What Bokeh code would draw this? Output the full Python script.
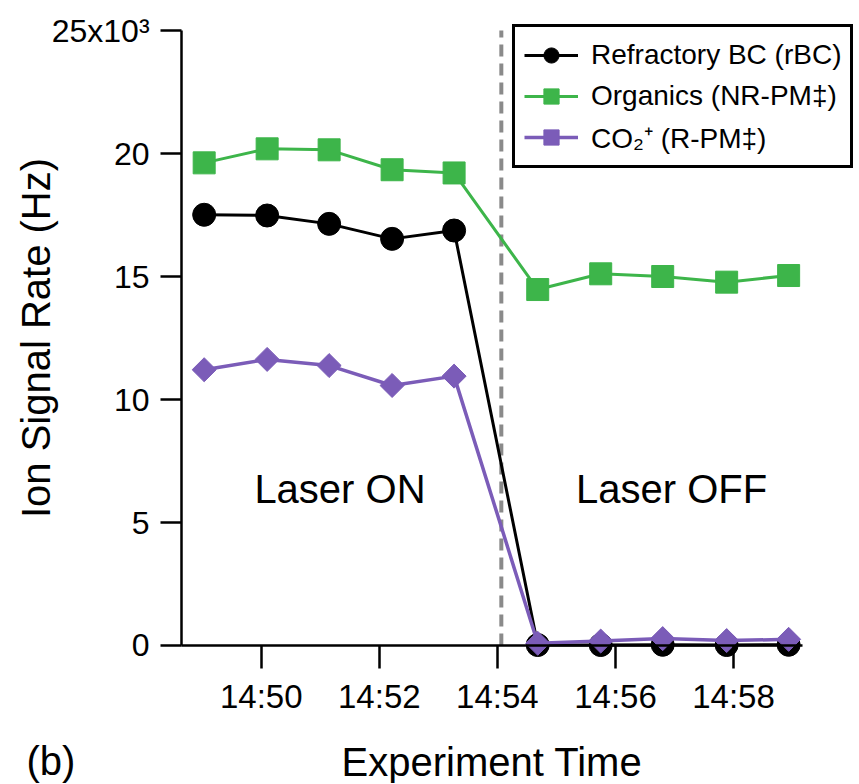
import pandas as pd
from bokeh.plotting import figure
from bokeh.models import (ColumnDataSource, Range1d, FixedTicker, DatetimeTickFormatter,
                          Label, Legend, LegendItem)
from bokeh.embed import file_html
from bokeh.resources import INLINE

DAY = "2013-06-01 "

# ---- data ----
times = ["14:49:02", "14:50:06", "14:51:09", "14:52:13", "14:53:16",
         "14:54:41", "14:55:45", "14:56:48", "14:57:53", "14:58:56"]
rbc = [17510, 17480, 17140, 16530, 16870, 20, 20, 30, 20, 30]
organics = [19620, 20190, 20150, 19340, 19210, 14470, 15110, 15000, 14770, 15040]
co2 = [11210, 11630, 11380, 10570, 10950, 90, 180, 280, 200, 250]

laser_off_time = "14:54:04"
x_tick_labels = ["14:50", "14:52", "14:54", "14:56", "14:58"]
y_ticks = [0, 5000, 10000, 15000, 20000, 25000]
y_tick_labels = ["0", "5", "10", "15", "20", "25x10\u00b3"]
x_axis_span = ["14:48:39", "14:59:10"]      # extent of the drawn time axis

series_names = ["Refractory BC (rBC)", "Organics (NR-PM\u2021)", "CO\u2082\u207a (R-PM\u2021)"]
colors = ["#000000", "#3db54a", "#7b5cb8"]


def ms(hms):
    return pd.Timestamp(DAY + hms).value / 1e6


FONT = "Liberation Sans"
W, H = 858, 783
# whole canvas is the plotting frame; axes are pinned inside it
x_view = (ms("14:45:35"), ms("15:00:07"))
y_view = (-5610, 26220)

src = ColumnDataSource(dict(t=[ms(s) for s in times], rbc=rbc, org=organics, co2=co2))

p = figure(frame_width=W, frame_height=H, title=None,
           x_axis_type="datetime", output_backend="svg", toolbar_location=None,
           x_range=Range1d(*x_view), y_range=Range1d(*y_view),
           min_border=0)

p.outline_line_color = None
p.xgrid.grid_line_color = None
p.ygrid.grid_line_color = None
p.background_fill_color = "white"
p.border_fill_color = "white"

# vertical dashed "laser off" marker
sw = ms(laser_off_time)
p.segment(x0=[sw], y0=[y_ticks[0]], x1=[sw], y1=[y_ticks[-1]],
          line_color="#8a8a8a", line_width=4, line_dash="12 7")

l1 = p.line("t", "rbc", source=src, line_color=colors[0], line_width=3)
s1 = p.scatter("t", "rbc", source=src, marker="circle", size=23, color=colors[0])
l2 = p.line("t", "org", source=src, line_color=colors[1], line_width=3)
s2 = p.scatter("t", "org", source=src, marker="square", size=22, color=colors[1])
l3 = p.line("t", "co2", source=src, line_color=colors[2], line_width=3.5)
s3 = p.scatter("t", "co2", source=src, marker="square", angle=0.785398, size=17, color=colors[2])

# axes
xa = p.xaxis[0]
ya = p.yaxis[0]
xa.ticker = FixedTicker(ticks=[ms(s + ":00") for s in x_tick_labels])
xa.formatter = DatetimeTickFormatter(seconds="%H:%M", minsec="%H:%M", minutes="%H:%M",
                                     hourmin="%H:%M", hours="%H:%M")
xa.fixed_location = y_ticks[0]
xa.bounds = (ms(x_axis_span[0]), ms(x_axis_span[1]))
xa.axis_label = "Experiment Time"
xa.major_tick_out = 23
xa.major_label_standoff = 10
xa.axis_label_standoff = 21
xa.major_label_text_font_size = "33px"

ya.ticker = FixedTicker(ticks=y_ticks)
ya.major_label_overrides = {t: lab for t, lab in zip(y_ticks, y_tick_labels)}
ya.fixed_location = ms(x_axis_span[0])
ya.bounds = (y_ticks[0], y_ticks[-1])
ya.axis_label = "Ion Signal Rate (Hz)"
ya.major_tick_out = 21
ya.major_label_standoff = 11
ya.axis_label_standoff = -9
ya.major_label_text_font_size = "32px"

for ax in (xa, ya):
    ax.axis_line_width = 2.5
    ax.axis_line_color = "black"
    ax.major_tick_in = 0
    ax.major_tick_line_width = 2.5
    ax.major_tick_line_color = "black"
    ax.minor_tick_line_color = None
    ax.major_label_text_font = FONT
    ax.major_label_text_color = "black"
    ax.axis_label_text_font = FONT
    ax.axis_label_text_font_size = "40px"
    ax.axis_label_text_font_style = "normal"
    ax.axis_label_text_color = "black"

# annotations
p.add_layout(Label(x=ms("14:51:20"), y=6380, text="Laser ON", text_align="center",
                   text_baseline="middle", text_font=FONT, text_font_size="40px",
                   text_color="black"))
p.add_layout(Label(x=ms("14:56:57"), y=6380, text="Laser OFF", text_align="center",
                   text_baseline="middle", text_font=FONT, text_font_size="40px",
                   text_color="black"))
p.add_layout(Label(x=26, y=1, x_units="screen", y_units="screen", text="(b)",
                   text_baseline="bottom", text_font=FONT, text_font_size="40px",
                   text_color="black"))

legend = Legend(items=[LegendItem(label=series_names[0], renderers=[l1, s1]),
                       LegendItem(label=series_names[1], renderers=[l2, s2]),
                       LegendItem(label=series_names[2], renderers=[l3, s3])],
                location=(512, H - 168), margin=0, padding=9, spacing=3,
                glyph_width=54, glyph_height=38, label_height=38, label_standoff=13,
                label_text_font=FONT, label_text_font_size="28px", label_text_color="black",
                border_line_color="black", border_line_width=3, border_line_alpha=1.0,
                background_fill_color="white", background_fill_alpha=1.0)
p.add_layout(legend)

open("out.html", "w").write(file_html(p, INLINE))
